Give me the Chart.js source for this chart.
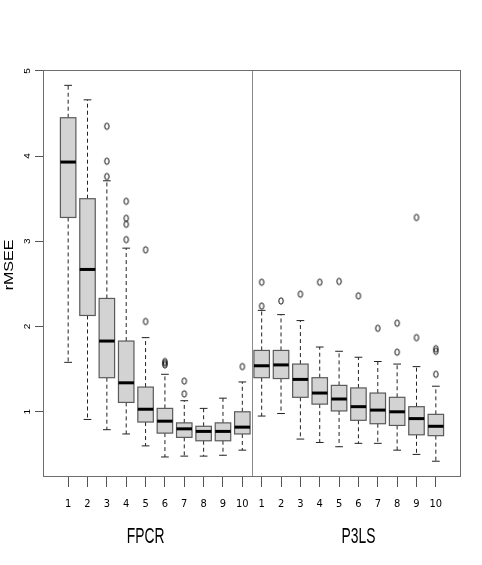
<!DOCTYPE html>
<html>
<head>
<meta charset="utf-8">
<script src="https://cdn.jsdelivr.net/npm/chart.js@4/dist/chart.umd.min.js"></script>
<style>
html,body{margin:0;padding:0;background:#fff;}
#wrap{width:482px;height:565px;}
</style>
</head>
<body>
<div id="wrap"><canvas id="c" width="482" height="565"></canvas></div>
<script>
// ---- data ----
const groups = ['FPCR', 'P3LS'];
const categories = ['1','2','3','4','5','6','7','8','9','10'];
const yTicks = [1, 2, 3, 4, 5];

const fpcrLow    = [1.58, 0.91, 0.79, 0.74, 0.60, 0.47, 0.48, 0.48, 0.49, 0.55];
const fpcrQ1     = [3.28, 2.13, 1.40, 1.11, 0.88, 0.75, 0.70, 0.66, 0.66, 0.74];
const fpcrMedian = [3.93, 2.67, 1.83, 1.34, 1.03, 0.89, 0.80, 0.77, 0.77, 0.82];
const fpcrQ3     = [4.45, 3.50, 2.33, 1.83, 1.29, 1.04, 0.87, 0.83, 0.87, 1.00];
const fpcrHigh   = [4.83, 4.66, 3.71, 2.92, 1.87, 1.44, 1.13, 1.04, 1.16, 1.35];
const fpcrOut    = [[], [], [4.35, 3.94, 3.76], [3.47, 3.27, 3.20, 3.02], [2.90, 2.06],
                    [1.59, 1.57, 1.55], [1.36, 1.21], [], [], [1.53]];

const p3lsLow    = [0.95, 0.98, 0.68, 0.64, 0.59, 0.63, 0.63, 0.55, 0.50, 0.42];
const p3lsQ1     = [1.40, 1.39, 1.17, 1.09, 1.01, 0.90, 0.86, 0.84, 0.73, 0.72];
const p3lsMedian = [1.54, 1.55, 1.38, 1.22, 1.15, 1.06, 1.02, 1.00, 0.92, 0.83];
const p3lsQ3     = [1.72, 1.72, 1.56, 1.40, 1.31, 1.28, 1.22, 1.17, 1.06, 0.97];
const p3lsHigh   = [2.19, 2.14, 2.07, 1.76, 1.71, 1.64, 1.59, 1.56, 1.53, 1.30];
const p3lsOut    = [[2.52, 2.24], [2.30], [2.38], [2.52], [2.53], [2.36], [1.98],
                    [2.04, 1.70], [3.28, 1.87], [1.74, 1.71, 1.44]];

// ---- build box table ----
const boxStats = [];
[[fpcrLow, fpcrQ1, fpcrMedian, fpcrQ3, fpcrHigh],
 [p3lsLow, p3lsQ1, p3lsMedian, p3lsQ3, p3lsHigh]].forEach((g, gi) => {
  categories.forEach((c, i) => {
    boxStats.push({x: gi * categories.length + i + 1,
      low: g[0][i], q1: g[1][i], med: g[2][i], q3: g[3][i], high: g[4][i]});
  });
});
const outlierPoints = [];
[fpcrOut, p3lsOut].forEach((g, gi) => {
  g.forEach((arr, i) => arr.forEach(v => outlierPoints.push({x: gi * categories.length + i + 1, y: v})));
});

// ellipse marker (reference image is horizontally compressed)
const mark = document.createElement('canvas');
mark.width = 8; mark.height = 10;
(function(){
  const m = mark.getContext('2d');
  m.strokeStyle = '#111'; m.lineWidth = 1;
  m.beginPath(); m.ellipse(4, 5, 2.2, 3.2, 0, 0, Math.PI * 2); m.stroke();
})();

const BOXW = 0.8, CAPW = 0.4;

const boxPlugin = {
  id: 'boxes',
  beforeDatasetsDraw(chart) {
    const ctx = chart.ctx, xs = chart.scales.x, ys = chart.scales.y, a = chart.chartArea;
    ctx.save();
    // separator
    ctx.strokeStyle = '#8a8a8a'; ctx.lineWidth = 1;
    const sx = Math.round(xs.getPixelForValue(categories.length + 0.5)) + 0.5;
    ctx.beginPath(); ctx.moveTo(sx, a.top); ctx.lineTo(sx, a.bottom); ctx.stroke();
    boxStats.forEach(b => {
      const cx = xs.getPixelForValue(b.x);
      const hw = (xs.getPixelForValue(b.x + BOXW / 2) - xs.getPixelForValue(b.x - BOXW / 2)) / 2;
      const cw = (xs.getPixelForValue(b.x + CAPW / 2) - xs.getPixelForValue(b.x - CAPW / 2)) / 2;
      const yl = ys.getPixelForValue(b.low), y1 = ys.getPixelForValue(b.q1),
            ym = ys.getPixelForValue(b.med), y3 = ys.getPixelForValue(b.q3),
            yh = ys.getPixelForValue(b.high);
      // whiskers dashed
      ctx.strokeStyle = '#222'; ctx.lineWidth = 1; ctx.setLineDash([4, 3]);
      ctx.beginPath();
      ctx.moveTo(cx, y3); ctx.lineTo(cx, yh);
      ctx.moveTo(cx, y1); ctx.lineTo(cx, yl);
      ctx.stroke();
      ctx.setLineDash([]);
      // caps
      ctx.beginPath();
      ctx.moveTo(cx - cw, yh); ctx.lineTo(cx + cw, yh);
      ctx.moveTo(cx - cw, yl); ctx.lineTo(cx + cw, yl);
      ctx.stroke();
      // box
      ctx.fillStyle = '#d3d3d3';
      ctx.fillRect(cx - hw, y3, hw * 2, y1 - y3);
      ctx.strokeStyle = '#5a5a5a'; ctx.lineWidth = 1.2;
      ctx.strokeRect(cx - hw, y3, hw * 2, y1 - y3);
      // median
      ctx.strokeStyle = '#000'; ctx.lineWidth = 3;
      ctx.beginPath(); ctx.moveTo(cx - hw, ym); ctx.lineTo(cx + hw, ym); ctx.stroke();
    });
    ctx.restore();
  },
  afterDraw(chart) {
    const ctx = chart.ctx, xs = chart.scales.x, ys = chart.scales.y, a = chart.chartArea;
    ctx.save();
    // frame
    ctx.strokeStyle = '#6e6e6e'; ctx.lineWidth = 1;
    ctx.strokeRect(Math.round(a.left) + 0.5, Math.round(a.top) + 0.5,
                   Math.round(a.right - a.left) - 1, Math.round(a.bottom - a.top) - 1);
    // y tick labels rotated
    ctx.fillStyle = '#000';
    ctx.font = '10px "Liberation Sans", Arial, sans-serif';
    ctx.textAlign = 'center'; ctx.textBaseline = 'middle';
    yTicks.forEach(v => {
      const y = ys.getPixelForValue(v);
      ctx.save(); ctx.translate(27.5, y); ctx.rotate(-Math.PI / 2);
      ctx.scale(1, 0.85);
      ctx.fillText(String(v), 0, 0); ctx.restore();
    });
    // y title
    ctx.save();
    ctx.font = '16px "Liberation Sans", Arial, sans-serif';
    ctx.translate(9.5, 265); ctx.rotate(-Math.PI / 2); ctx.scale(1, 0.8);
    ctx.fillText('rMSEE', 0, 0); ctx.restore();
    // group labels
    ctx.font = '22px "Liberation Sans", Arial, sans-serif';
    [[groups[0], 5], [groups[1], 16]].forEach(([t, v]) => {
      const x = xs.getPixelForValue(v);
      ctx.save(); ctx.translate(x, 537); ctx.scale(0.63, 1);
      ctx.fillText(t, 0, 0); ctx.restore();
    });
    ctx.restore();
  }
};

new Chart(document.getElementById('c'), {
  type: 'scatter',
  data: {
    datasets: [{
      data: outlierPoints,
      pointStyle: mark,
      pointRadius: 4,
      pointHoverRadius: 4
    }]
  },
  options: {
    responsive: false,
    animation: false,
    devicePixelRatio: 1,
    layout: {padding: {left: 0, top: 70, right: 21, bottom: 0}},
    plugins: {legend: {display: false}, tooltip: {enabled: false}},
    scales: {
      x: {
        type: 'linear', min: -0.3, max: 21.3,
        afterBuildTicks: s => { s.ticks = boxStats.map(b => ({value: b.x})); },
        afterFit: s => { s.height = 88; },
        grid: {drawOnChartArea: false, drawTicks: true, tickLength: 10, color: '#555', tickColor: '#555'},
        border: {display: false},
        ticks: {
          autoSkip: false, maxRotation: 0, minRotation: 0, padding: 11,
          color: '#000',
          font: {family: '"Liberation Sans Narrow", "DejaVu Sans Condensed", sans-serif', size: 11},
          callback: v => categories[(Math.round(v) - 1) % categories.length]
        }
      },
      y: {
        type: 'linear', min: 0.235, max: 5.01,
        afterBuildTicks: s => { s.ticks = yTicks.map(v => ({value: v})); },
        afterFit: s => { s.width = 43; },
        grid: {drawOnChartArea: false, drawTicks: true, tickLength: 8, color: '#555', tickColor: '#555'},
        border: {display: false},
        ticks: {display: false}
      }
    }
  },
  plugins: [boxPlugin]
});
</script>
</body>
</html>
